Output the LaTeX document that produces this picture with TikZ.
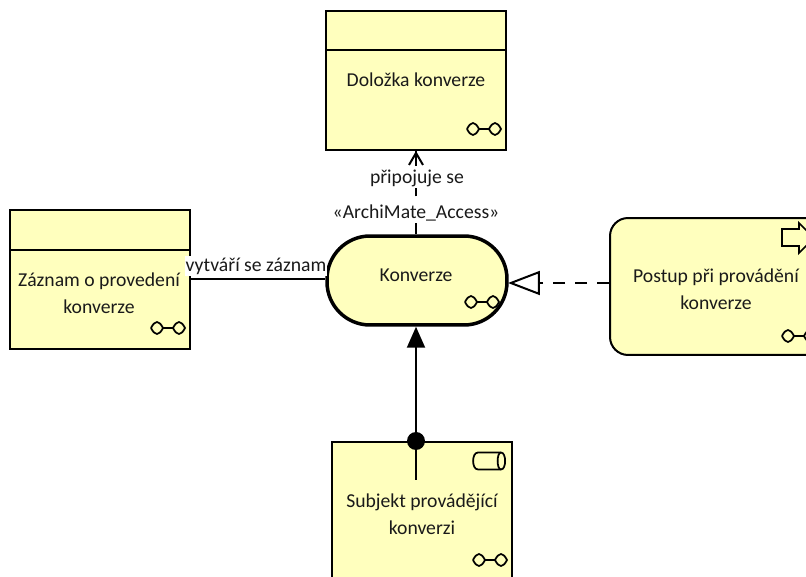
\documentclass[tikz,border=0pt]{standalone}
\usepackage{fontspec}
\setmainfont{Carlito}
\usetikzlibrary{arrows.meta}
\definecolor{elemYellow}{HTML}{FFFFBE}
\definecolor{textDark}{HTML}{1A1A1A}
\tikzset{
    element/.style={draw=black, fill=elemYellow, line width=0.04cm, inner sep=0pt, minimum width=3.6cm, minimum height=2.78cm},
    caption/.style={text=textDark, font=\fontsize{11.2pt}{15.3pt}\selectfont, align=center, inner sep=0pt},
    linkLabel/.style={caption, fill=white, inner ysep=0.03cm, inner xsep=0.01cm},
    link/.style={line width=0.04cm},
    icon/.style={line width=0.035cm}
}

\begin{document}
\begin{tikzpicture}[x=0.02cm, y=-0.02cm]
                \useasboundingbox (0,0) rectangle (806,577);

                \node [element] (Dolozka) at (416,80.5) {};
                \node [element] (Zaznam) at (100,279.5) {};
                \node [element, line width=0.07cm, rounded corners=0.86cm, minimum height=1.78cm] (Konverze) at (417,280.5) {};
                \node [element, rounded corners=0.36cm, minimum width=4.24cm, minimum height=2.74cm] (Postup) at (716,286.5) {};
                \node [element] (Subjekt) at (422,511) {};

                % Header line of a box, at height #2
                \def\drawHeader#1#2{
                    \draw [line width=0.03cm] (#1.west |- 0,#2) -- (#1.east |- 0,#2);
                }

                % Glasses icon with centre #1,#2
                \def\drawGlasses#1#2{
                    \begin{scope}[shift={(#1,#2)}, icon]
                        \draw (-6,0) -- (6,0);
                        \draw (-17,0) .. controls (-13,-8) and (-9,-8) .. (-5,0) .. controls (-9,8) and (-13,8) .. (-17,0);
                        \draw (5,0) .. controls (9,-8) and (13,-8) .. (17,0) .. controls (13,8) and (9,8) .. (5,0);
                    \end{scope}
                }

                \drawHeader{Dolozka}{50}
                \drawHeader{Zaznam}{250}

                \drawGlasses{484}{129}
                \drawGlasses{168}{328}
                \drawGlasses{482}{302}
                \drawGlasses{799}{336}
                \drawGlasses{490}{560}

                % Icons of the Subjekt and Postup boxes
                \draw [icon] (478,452.5) -- (501,452.5) .. controls (506.5,452.5) and (506.5,469.5) .. (501,469.5) -- (478,469.5) .. controls (471.5,469.5) and (471.5,452.5) .. (478,452.5) -- cycle;
                \draw [icon] (501,452.5) .. controls (496.5,452.5) and (496.5,469.5) .. (501,469.5);
                \draw [icon] (782,229) -- (799,229) -- (799,223) -- (814,238) -- (799,253) -- (799,246) -- (782,246) -- cycle;

                \node [caption] (DolozkaText) at (416,80) {Doložka konverze};
                \node [caption] (ZaznamText) at (99,293.5) {Záznam o provedení\\konverze};
                \node [caption] (KonverzeText) at (416,275) {Konverze};
                \node [caption] (PostupText) at (716,289.5) {Postup při provádění\\konverze};
                \node [caption] (SubjektText) at (422,514) {Subjekt provádějící\\konverzi};

                \coordinate (KonverzeIn) at (508,283);
                \coordinate (SubjektEnd) at (416,480);

                \draw [link, dash pattern=on 0.26cm off 0.5cm, -{Straight Barb[length=0.24cm, width=0.28cm]}] (Konverze.north -| Dolozka.south) -- (Dolozka.south);
                \draw [link] (Dolozka.south) -- ([yshift=-0.3cm]Dolozka.south);
                \draw [link] (Zaznam.east) -- (Konverze.west |- Zaznam.east);
                \draw [link, dash pattern=on 0.24cm off 0.2cm, -{Triangle[open, length=0.64cm, width=0.48cm]}] (Postup.west |- KonverzeIn) -- (KonverzeIn);
                \draw [link, -{Triangle[length=0.42cm, width=0.36cm]}] (SubjektEnd) -- (SubjektEnd |- Konverze.south);
                \node [circle, fill=black, inner sep=0pt, minimum size=0.36cm] (SubjektDot) at (416,441) {};

                \node [linkLabel] (PripojujeLabel) at (417,178) {připojuje se};
                \node [linkLabel] (AccessLabel) at (416,213) {«ArchiMate\_Access»};
                \node [linkLabel] (VytvariLabel) at (256,266) {vytváří se záznam};
            \end{tikzpicture}
\end{document}
